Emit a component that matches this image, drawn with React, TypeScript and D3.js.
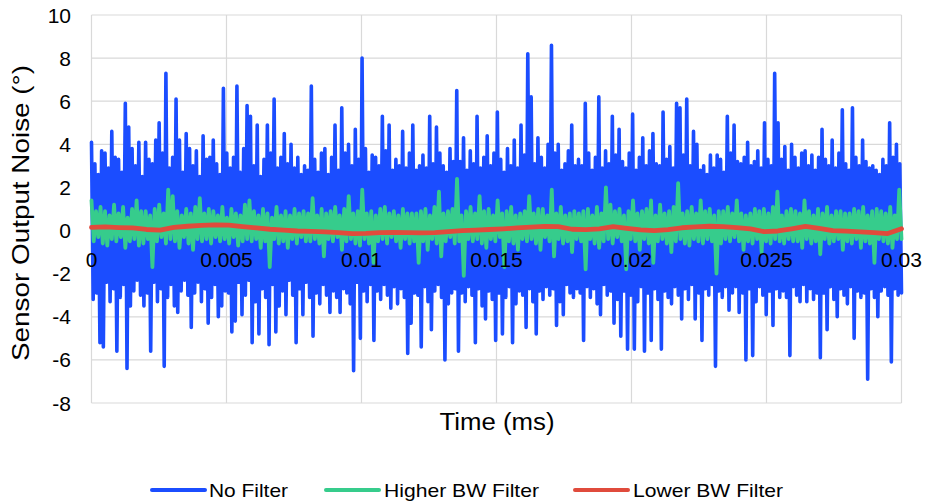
import * as d3 from "d3";

// sensor output noise (deg), sampled evenly over 0..0.03 ms
const noFilter = [
  4.1, -3.2, 3.1, -2.9, 2.6, -5.2, 3.7, -5.4, 3.6, -2.4, 2.9, -3.3, 4.6, -2.7, 3.4, -5.6, 3.3, -3.1, 2.7, -2.5, 5.9, -6.4, 4.8, -3.5,
  3.8, -2.8, 3.0, -2.3, 4.1, -3.0, 2.5, -3.5, 4.1, -2.9, 3.3, -5.6, 3.1, -2.4, 4.2, -3.3, 5.0, -2.7, 3.6, -6.3, 7.3, -3.1, 2.9, -2.5,
  3.4, -3.5, 6.1, -3.8, 4.2, -2.8, 2.7, -2.3, 4.5, -3.0, 3.8, -4.5, 3.0, -2.9, 3.7, -2.4, 2.5, -3.3, 4.4, -2.7, 3.3, -4.3, 3.4, -3.1,
  4.2, -2.5, 3.1, -4.0, 2.6, -3.5, 6.6, -2.8, 3.6, -2.9, 2.9, -4.7, 3.4, -4.2, 6.7, -2.4, 2.7, -3.9, 3.8, -3.0, 5.8, -2.3, 5.3, -5.2,
  3.0, -3.3, 4.9, -4.8, 2.5, -2.7, 3.3, -3.1, 4.9, -5.3, 3.6, -2.5, 6.1, -4.7, 2.9, -3.5, 3.4, -2.8, 4.5, -3.9, 3.1, -2.3, 4.0, -3.0,
  2.9, -5.2, 3.4, -2.7, 2.6, -3.9, 3.0, -2.4, 2.8, -3.1, 6.7, -4.9, 3.3, -2.9, 2.7, -3.4, 3.6, -2.5, 3.8, -3.0, 2.6, -3.8, 3.4, -2.8,
  4.9, -3.1, 2.8, -3.8, 5.7, -2.7, 3.6, -2.9, 4.0, -3.4, 3.0, -6.5, 4.7, -2.4, 3.3, -5.0, 8.0, -2.8, 3.8, -3.3, 2.7, -2.5, 3.5, -5.1,
  3.4, -2.8, 3.0, -3.2, 5.3, -2.5, 3.7, -3.0, 4.9, -3.6, 2.8, -2.6, 3.3, -3.4, 3.0, -2.7, 4.6, -3.1, 2.9, -5.7, 3.6, -4.3, 4.9, -2.9,
  2.8, -3.0, 3.0, -5.4, 3.5, -2.6, 2.9, -3.3, 5.3, -4.6, 3.1, -2.8, 4.8, -2.5, 3.6, -3.1, 3.0, -6.0, 2.7, -3.4, 3.8, -2.9, 3.2, -2.7,
  6.5, -5.6, 3.2, -2.9, 4.3, -3.3, 2.8, -2.6, 3.7, -3.0, 3.1, -5.2, 5.3, -2.7, 2.9, -3.5, 3.4, -4.1, 4.4, -2.8, 3.0, -3.2, 3.6, -5.1,
  5.5, -2.9, 3.3, -4.8, 2.7, -3.1, 3.8, -2.6, 3.0, -5.2, 4.2, -3.4, 2.9, -2.8, 4.9, -3.0, 3.5, -4.5, 8.2, -2.7, 6.2, -3.3, 3.1, -4.8,
  4.3, -2.8, 3.4, -3.2, 2.9, -2.6, 4.0, -3.0, 8.6, -2.7, 3.6, -4.4, 4.0, -3.3, 2.8, -3.9, 3.1, -2.5, 3.7, -2.9, 4.9, -3.1, 3.0, -2.7,
  3.3, -2.9, 3.0, -5.1, 5.9, -2.6, 3.6, -3.1, 2.8, -2.7, 3.4, -3.4, 6.2, -3.9, 2.9, -2.5, 3.7, -3.0, 3.1, -2.8, 5.3, -4.3, 3.5, -3.2,
  4.7, -4.9, 3.2, -2.8, 2.9, -5.5, 3.6, -3.0, 5.4, -5.5, 2.8, -3.3, 3.4, -2.6, 4.3, -5.6, 3.0, -2.9, 3.7, -5.1, 4.5, -2.7, 3.1, -3.2,
  3.0, -5.5, 5.5, -2.8, 3.3, -3.1, 3.9, -3.4, 2.9, -2.6, 5.9, -3.0, 5.7, -4.1, 3.5, -2.7, 6.1, -3.2, 3.0, -2.5, 4.6, -4.1, 4.0, -2.9,
  2.8, -5.1, 3.0, -2.7, 2.6, -3.0, 3.5, -2.5, 2.9, -6.3, 3.5, -2.8, 3.3, -3.1, 2.7, -2.6, 5.3, -3.7, 3.6, -2.9, 4.9, -2.6, 3.2, -3.8,
  3.1, -2.9, 3.4, -6.0, 4.1, -2.7, 3.0, -5.8, 3.2, -3.3, 3.7, -2.6, 2.9, -3.0, 5.0, -3.9, 3.3, -2.8, 3.0, -4.4, 7.3, -2.7, 5.0, -3.1,
  3.3, -2.8, 3.9, -3.1, 2.8, -5.8, 4.0, -2.6, 3.4, -3.0, 2.9, -3.3, 3.6, -2.5, 3.7, -3.3, 3.0, -2.7, 3.5, -3.2, 2.8, -2.9, 3.4, -5.9,
  4.7, -2.9, 3.3, -4.6, 3.0, -2.6, 4.2, -3.2, 2.9, -4.0, 3.6, -2.7, 5.6, -3.0, 3.1, -3.4, 2.8, -2.6, 5.7, -5.0, 3.4, -2.8, 3.0, -3.1,
  4.2, -2.9, 3.2, -6.9, 2.9, -2.7, 3.0, -3.1, 2.8, -4.0, 2.6, -2.8, 3.3, -2.6, 3.0, -3.0, 5.0, -6.1, 3.4, -2.7, 4.0, -3.0, 3.1, -2.9,
];

const higherBW = [
  1.4, -0.5, 0.9, -0.3, 1.1, -0.6, 0.9, -0.7, 0.7, -0.4, 1.2, -0.5, 0.8, -0.3, 1.1, -0.8, 0.6, -0.5, 1.0, -0.4, 1.4, -0.7, 0.9, -0.6,
  0.9, -0.4, 0.7, -1.7, 1.0, -0.5, 1.2, -0.3, 0.8, -0.6, 1.9, -0.4, 1.6, -0.5, 0.9, -0.8, 0.7, -0.3, 1.0, -0.6, 0.8, -0.9, 1.1, -0.4,
  1.5, -0.5, 0.8, -0.4, 1.0, -0.6, 0.9, -0.3, 0.7, -0.5, 1.1, -0.4, 0.6, -0.6, 1.0, -0.3, 0.8, -0.7, 0.7, -0.5, 1.2, -0.4, 1.4, -0.5,
  0.9, -0.4, 0.7, -0.8, 1.0, -0.5, 0.8, -1.7, 0.6, -0.4, 1.1, -0.6, 0.7, -0.5, 0.9, -0.8, 0.7, -0.4, 1.0, -0.6, 0.8, -0.3, 0.9, -0.5,
  0.8, -0.5, 1.5, -0.4, 0.7, -0.6, 1.0, -1.2, 0.8, -0.4, 0.9, -0.5, 1.1, -0.3, 0.7, -0.9, 1.0, -0.5, 1.6, -0.4, 0.8, -0.6, 0.9, -0.7,
  1.9, -0.4, 0.8, -0.6, 0.9, -1.5, 0.7, -0.5, 1.0, -0.4, 1.1, -0.6, 0.8, -0.3, 0.9, -0.5, 0.7, -0.8, 1.0, -0.4, 0.8, -0.6, 0.8, -0.5,
  0.8, -1.5, 0.9, -0.5, 1.0, -0.9, 0.7, -0.4, 1.1, -0.6, 1.8, -1.2, 0.8, -0.5, 0.9, -0.3, 1.0, -0.6, 2.4, -0.5, 0.7, -2.1, 0.9, -0.4,
  1.1, -0.5, 0.8, -0.4, 1.6, -0.6, 0.9, -0.8, 1.0, -0.4, 0.7, -0.5, 1.4, -0.3, 0.8, -1.7, 0.9, -0.5, 1.1, -0.6, 0.7, -0.9, 0.8, -0.4,
  0.9, -0.5, 1.6, -0.4, 0.8, -0.6, 1.0, -0.9, 1.0, -0.3, 0.7, -0.5, 1.9, -1.2, 0.8, -0.4, 1.1, -0.6, 0.7, -0.5, 0.8, -1.0, 0.9, -0.4,
  0.8, -0.5, 0.9, -1.8, 1.0, -0.4, 0.7, -0.6, 1.1, -0.8, 0.8, -0.5, 2.0, -0.4, 1.2, -0.6, 0.9, -0.3, 1.0, -0.5, 0.7, -1.8, 0.9, -0.4,
  1.4, -0.5, 0.8, -0.9, 0.9, -0.4, 1.0, -0.6, 1.4, -1.5, 0.7, -0.5, 1.2, -0.4, 0.8, -0.6, 0.9, -1.0, 1.1, -0.5, 2.2, -0.4, 0.8, -0.6,
  0.9, -0.7, 1.1, -0.4, 0.8, -0.5, 1.4, -0.6, 0.9, -0.4, 1.0, -0.5, 0.7, -2.0, 0.9, -0.6, 0.9, -0.4, 1.1, -0.5, 0.8, -0.3, 1.4, -0.5,
  0.8, -0.9, 0.7, -0.5, 0.8, -0.6, 1.0, -0.4, 0.9, -1.0, 1.0, -0.5, 0.8, -0.6, 1.1, -0.4, 1.8, -0.5, 0.7, -0.6, 0.9, -0.4, 1.0, -0.5,
  0.9, -0.5, 0.8, -0.8, 1.4, -0.4, 0.9, -0.6, 0.7, -0.5, 1.0, -1.1, 0.8, -0.4, 1.1, -0.6, 0.7, -0.5, 0.9, -0.4, 0.9, -0.9, 0.8, -0.5,
  0.8, -0.6, 1.0, -0.4, 0.9, -0.8, 1.1, -0.5, 0.7, -0.6, 0.9, -1.5, 1.0, -0.4, 0.9, -0.5, 0.8, -0.6, 1.1, -0.8, 0.7, -0.4, 1.9, -0.4,
];

const lowerBW = [
  0.15, 0.17, 0.14, 0.12, 0.05, 0.02, 0.15, 0.2, 0.24, 0.26, 0.25, 0.18, 0.12, 0.06, 0.02,
  -0.02, -0.04, -0.06, -0.1, -0.14, -0.13, -0.1, -0.09, -0.1, -0.11, -0.1, -0.05, 0.0, 0.02, 0.05,
  0.08, 0.12, 0.16, 0.19, 0.18, 0.06, 0.04, 0.08, 0.18, 0.1, 0.03, 0.0, 0.04, 0.13, 0.17,
  0.2, 0.18, 0.14, 0.08, -0.05, -0.02, 0.08, 0.19, 0.1, 0.0, -0.03, -0.06, -0.1, -0.14, 0.08,
];

const seriesNames = ["No Filter", "Higher BW Filter", "Lower BW Filter"];
const seriesColors = ["#1b4dff", "#36cc8c", "#e04b3c"];
const xTicks = [0, 0.005, 0.01, 0.015, 0.02, 0.025, 0.03];
const yTicks = [-8, -6, -4, -2, 0, 2, 4, 6, 8, 10];

const W = 930;
const H = 503;
const FONT = "'Liberation Sans', Arial, sans-serif";

export default function App() {
  const x = d3.scaleLinear().domain([0, 0.03]).range([91.5, 901.5]);
  const y = d3.scaleLinear().domain([-8, 10]).range([403, 15]);

  const toPoints = (vals: number[]) =>
    vals.map((v, i) => [(i * 0.03) / (vals.length - 1), v] as [number, number]);

  const line = d3
    .line<[number, number]>()
    .x((d) => x(d[0]))
    .y((d) => y(d[1]));

  const series = [noFilter, higherBW, lowerBW].map(toPoints);
  const widths = [3.6, 3.8, 4.8];

  const legend = [
    { x0: 152, x1: 205, tx: 209, tl: 79 },
    { x0: 326, x1: 379, tx: 384, tl: 155 },
    { x0: 575, x1: 628, tx: 633, tl: 150 },
  ];

  return (
    <svg
      width={W}
      height={H}
      style={{ position: "absolute", left: 0, top: 0, background: "#fff" }}
      fontFamily={FONT}
    >
      {/* grid */}
      <g stroke="#d9d9d9" strokeWidth={1.2}>
        {yTicks.map((t) => (
          <line key={"h" + t} x1={x(0)} x2={x(0.03)} y1={y(t)} y2={y(t)} />
        ))}
        {xTicks.map((t) => (
          <line key={"v" + t} x1={x(t)} x2={x(t)} y1={y(10)} y2={y(-8)} />
        ))}
      </g>

      {/* series */}
      {series.map((pts, k) => (
        <path
          key={k}
          d={line(pts) || ""}
          fill="none"
          stroke={seriesColors[k]}
          strokeWidth={widths[k]}
          strokeLinejoin="round"
          strokeLinecap="round"
        />
      ))}

      {/* y tick labels */}
      {yTicks.map((t) => (
        <text key={"yl" + t} x={71} y={y(t) + 7.5} textAnchor="end" fontSize={21} fill="#000">
          {t}
        </text>
      ))}

      {/* x tick labels sit under the zero line */}
      {xTicks.map((t) => (
        <text key={"xl" + t} x={x(t)} y={267} textAnchor="middle" fontSize={21} fill="#000">
          {t}
        </text>
      ))}

      <text
        transform={`translate(${29},${213}) rotate(-90)`}
        textAnchor="middle"
        fontSize={24}
        textLength={296}
        lengthAdjust="spacingAndGlyphs"
        fill="#000"
      >
        Sensor Output Noise (°)
      </text>
      <text
        x={497}
        y={430}
        textAnchor="middle"
        fontSize={23}
        textLength={115}
        lengthAdjust="spacingAndGlyphs"
        fill="#000"
      >
        Time (ms)
      </text>

      {/* legend */}
      {legend.map((l, k) => (
        <g key={"lg" + k}>
          <line x1={l.x0} x2={l.x1} y1={490} y2={490} stroke={seriesColors[k]} strokeWidth={4} strokeLinecap="round" />
          <text x={l.tx} y={497} fontSize={19} textLength={l.tl} lengthAdjust="spacingAndGlyphs" fill="#000">
            {seriesNames[k]}
          </text>
        </g>
      ))}
    </svg>
  );
}
